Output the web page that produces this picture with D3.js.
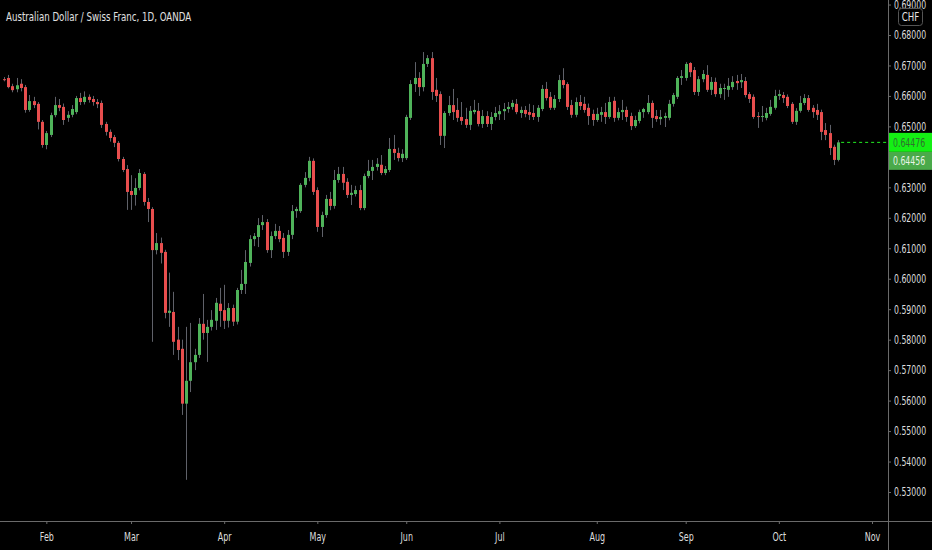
<!DOCTYPE html>
<html><head><meta charset="utf-8">
<script src="https://cdn.jsdelivr.net/npm/d3@7"></script>
<style>
html,body{margin:0;padding:0;background:#000;}
svg{display:block;}
text{font-family:"DejaVu Sans Condensed","DejaVu Sans","Liberation Sans",sans-serif;}
</style></head>
<body>
<svg id="chart" width="932" height="550"></svg>
<script>
const title = "Australian Dollar / Swiss Franc, 1D, OANDA";
const startDate = "2020-01-20";
const monthLabels = ["Feb","Mar","Apr","May","Jun","Jul","Aug","Sep","Oct","Nov"];
const monthIdx = [10,30,52,74,95,117,140,161,183,205];
const priceTicks = [0.53,0.54,0.55,0.56,0.57,0.58,0.59,0.60,0.61,0.62,0.63,0.65,0.66,0.67,0.68,0.69];
const lastPrice = 0.64476;
const prevPrice = 0.64456;
const currency = "CHF";

const open = [
.6655,.6659,.6632,.6622,.6640,.6629,.6554,.6583,.6574,.6515,
.6439,.6472,.6537,.6570,.6564,.6528,.6538,.6547,.6593,.6580,
.6597,.6590,.6580,.6577,.6508,.6482,.6465,.6446,.6393,.6360,
.6288,.6275,.6298,.6344,.6252,.6229,.6094,.6117,.6088,.5888,
.5891,.5800,.5770,.5590,.5665,.5726,.5750,.5852,.5822,.5842,
.5862,.5918,.5897,.5862,.5904,.5859,.5963,.5983,.6052,.6130,
.6137,.6176,.6186,.6094,.6140,.6157,.6134,.6088,.6144,.6222,
.6222,.6308,.6331,.6387,.6291,.6170,.6209,.6262,.6239,.6324,
.6344,.6318,.6275,.6278,.6291,.6232,.6337,.6354,.6367,.6374,
.6347,.6357,.6426,.6413,.6396,.6396,.6528,.6639,.6659,.6629,
.6705,.6724,.6620,.6606,.6469,.6544,.6570,.6554,.6531,.6524,
.6505,.6547,.6551,.6508,.6534,.6508,.6531,.6540,.6550,.6557,
.6564,.6574,.6544,.6554,.6547,.6544,.6531,.6557,.6623,.6597,
.6561,.6590,.6652,.6639,.6570,.6538,.6580,.6574,.6561,.6541,
.6521,.6538,.6547,.6531,.6584,.6528,.6547,.6554,.6534,.6501,
.6518,.6547,.6547,.6577,.6534,.6524,.6528,.6528,.6574,.6597,
.6659,.6659,.6708,.6685,.6613,.6655,.6669,.6620,.6646,.6606,
.6623,.6620,.6629,.6649,.6645,.6649,.6606,.6597,.6534,.6531,
.6528,.6541,.6561,.6600,.6603,.6597,.6574,.6515,.6551,.6577,
.6593,.6561,.6554,.6547,.6488,.6478,.6433,.6390];
const high = [
.6662,.6669,.6640,.6659,.6655,.6636,.6603,.6597,.6580,.6521,
.6485,.6545,.6597,.6590,.6575,.6550,.6570,.6600,.6610,.6615,
.6605,.6600,.6590,.6585,.6515,.6490,.6472,.6452,.6400,.6373,
.6340,.6330,.6360,.6350,.6265,.6235,.6150,.6135,.6095,.6020,
.5957,.5842,.5800,.5842,.5855,.5770,.5871,.5950,.5865,.5897,
.5937,.5970,.5980,.5920,.5915,.5970,.6029,.6094,.6143,.6150,
.6199,.6209,.6196,.6155,.6180,.6173,.6150,.6160,.6242,.6236,
.6314,.6350,.6400,.6395,.6300,.6220,.6275,.6285,.6357,.6367,
.6367,.6330,.6308,.6305,.6308,.6345,.6390,.6390,.6396,.6406,
.6370,.6462,.6472,.6430,.6425,.6538,.6652,.6711,.6678,.6744,
.6734,.6744,.6659,.6615,.6550,.6600,.6623,.6593,.6580,.6561,
.6567,.6587,.6577,.6554,.6550,.6547,.6564,.6570,.6577,.6580,
.6587,.6590,.6565,.6567,.6574,.6570,.6570,.6636,.6646,.6613,
.6603,.6669,.6691,.6645,.6587,.6595,.6603,.6597,.6575,.6555,
.6561,.6564,.6577,.6597,.6597,.6561,.6587,.6565,.6545,.6535,
.6555,.6561,.6603,.6585,.6554,.6554,.6545,.6587,.6610,.6665,
.6685,.6711,.6711,.6695,.6665,.6685,.6701,.6662,.6660,.6640,
.6640,.6659,.6665,.6669,.6672,.6662,.6613,.6605,.6547,.6567,
.6561,.6587,.6620,.6620,.6613,.6605,.6580,.6560,.6600,.6606,
.6603,.6570,.6574,.6555,.6511,.6505,.6440,.6455];
const low = [
.6648,.6625,.6612,.6612,.6615,.6545,.6548,.6560,.6490,.6430,
.6425,.6465,.6530,.6550,.6505,.6515,.6530,.6540,.6570,.6572,
.6578,.6568,.6560,.6495,.6470,.6450,.6432,.6385,.6350,.6226,
.6226,.6240,.6290,.6240,.6186,.5793,.6080,.6050,.5870,.5842,
.5750,.5733,.5553,.5340,.5628,.5700,.5740,.5800,.5727,.5830,
.5832,.5842,.5835,.5840,.5845,.5850,.5950,.5950,.6040,.6107,
.6104,.6160,.6085,.6068,.6130,.6120,.6068,.6075,.6130,.6200,
.6216,.6300,.6320,.6275,.6154,.6137,.6200,.6225,.6230,.6315,
.6291,.6265,.6242,.6270,.6225,.6225,.6330,.6324,.6355,.6340,
.6340,.6350,.6390,.6385,.6383,.6390,.6521,.6613,.6600,.6615,
.6695,.6587,.6580,.6439,.6429,.6535,.6521,.6515,.6505,.6495,
.6488,.6540,.6500,.6495,.6498,.6488,.6520,.6521,.6521,.6545,
.6555,.6540,.6528,.6530,.6521,.6521,.6515,.6550,.6585,.6554,
.6554,.6580,.6625,.6554,.6528,.6530,.6554,.6545,.6505,.6502,
.6515,.6515,.6508,.6525,.6515,.6520,.6521,.6515,.6488,.6495,
.6510,.6528,.6540,.6495,.6515,.6505,.6498,.6520,.6565,.6590,
.6636,.6650,.6662,.6603,.6600,.6645,.6613,.6603,.6597,.6593,
.6587,.6597,.6620,.6620,.6626,.6595,.6577,.6525,.6495,.6515,
.6520,.6535,.6555,.6587,.6577,.6560,.6508,.6505,.6545,.6570,
.6548,.6528,.6521,.6455,.6455,.6406,.6373,.6385];
const close = [
.6652,.6629,.6619,.6635,.6626,.6554,.6583,.6570,.6515,.6439,
.6478,.6537,.6570,.6561,.6521,.6538,.6557,.6593,.6580,.6597,
.6587,.6580,.6573,.6505,.6482,.6462,.6446,.6393,.6357,.6285,
.6275,.6298,.6347,.6252,.6229,.6094,.6117,.6085,.5888,.5895,
.5793,.5766,.5590,.5665,.5726,.5750,.5852,.5822,.5842,.5865,
.5921,.5894,.5862,.5904,.5859,.5963,.5983,.6055,.6130,.6140,
.6176,.6186,.6094,.6140,.6157,.6130,.6088,.6144,.6222,.6229,
.6308,.6331,.6387,.6285,.6170,.6209,.6262,.6239,.6324,.6344,
.6315,.6275,.6282,.6291,.6232,.6337,.6354,.6367,.6377,.6347,
.6360,.6426,.6413,.6396,.6410,.6531,.6639,.6659,.6629,.6705,
.6724,.6613,.6600,.6469,.6544,.6570,.6547,.6528,.6518,.6505,
.6551,.6554,.6508,.6534,.6508,.6531,.6544,.6550,.6557,.6564,
.6577,.6547,.6554,.6541,.6538,.6531,.6561,.6623,.6593,.6561,
.6590,.6652,.6636,.6564,.6538,.6580,.6567,.6554,.6534,.6521,
.6541,.6547,.6531,.6580,.6528,.6547,.6554,.6531,.6501,.6521,
.6547,.6557,.6577,.6528,.6524,.6531,.6534,.6574,.6603,.6659,
.6665,.6705,.6678,.6613,.6655,.6672,.6620,.6646,.6606,.6626,
.6626,.6633,.6646,.6642,.6652,.6603,.6590,.6531,.6531,.6534,
.6544,.6564,.6600,.6606,.6593,.6567,.6515,.6551,.6577,.6593,
.6554,.6547,.6538,.6482,.6472,.6429,.6390,.64476];

const W = 932, H = 550;
const axisX = 888, axisY = 521;
const upColor = "#4fb35a", downColor = "#e84e4e", wickColor = "#5f6169";
const textColor = "#dedede", lineColor = "#6a6a6a";

// horizontally condense text with a transform (keeps real text)
function squeeze(sel, sx){
  sel.each(function(){
    const t = d3.select(this);
    const x0 = +(t.attr("x") || 0);
    t.attr("x", x0/sx).attr("transform", `scale(${sx},1)`);
  });
}

const bars = open.map((o,i)=>({i, o, h:high[i], l:low[i], c:close[i]}));

const svg = d3.select("#chart");
svg.append("rect").attr("width",W).attr("height",H).attr("fill","#000");

const x = d3.scaleLinear().domain([0,205]).range([4,872]);
const y = d3.scaleLinear().domain([0.53,0.68]).range([492,35]);

const plot = svg.append("g");
plot.selectAll("line.wick").data(bars).join("line")
  .attr("class","wick")
  .attr("x1",d=>Math.round(x(d.i))+0.5).attr("x2",d=>Math.round(x(d.i))+0.5)
  .attr("y1",d=>y(d.h)).attr("y2",d=>y(d.l))
  .attr("stroke",wickColor).attr("stroke-width",1);
plot.selectAll("rect.body").data(bars).join("rect")
  .attr("class","body")
  .attr("x",d=>Math.round(x(d.i))-1)
  .attr("width",3)
  .attr("y",d=>y(Math.max(d.o,d.c)))
  .attr("height",d=>Math.max(1,Math.abs(y(d.o)-y(d.c))))
  .attr("fill",d=>d.c>=d.o?upColor:downColor);

const last = bars[bars.length-1];
svg.append("line")
  .attr("x1",x(last.i)+3).attr("x2",axisX)
  .attr("y1",y(lastPrice)).attr("y2",y(lastPrice))
  .attr("stroke","#22ee22").attr("stroke-width",1).attr("stroke-dasharray","3,3");

// bottom axis
const xAxis = d3.axisBottom(x).tickValues(monthIdx)
  .tickFormat((d,i)=>monthLabels[i]).tickSize(3).tickPadding(8);
const gx = svg.append("g").attr("transform",`translate(0,${axisY})`).call(xAxis);
gx.select(".domain").remove();
gx.selectAll(".tick line").attr("stroke",lineColor);
gx.selectAll(".tick text").attr("fill",textColor).attr("font-size",12).call(squeeze,0.74);
svg.append("line").attr("x1",0).attr("x2",W).attr("y1",axisY+0.5).attr("y2",axisY+0.5)
  .attr("stroke",lineColor).attr("stroke-width",1);

// right axis
const yAxis = d3.axisRight(y).tickValues(priceTicks).tickFormat(d3.format(".5f"))
  .tickSize(3).tickPadding(3);
const gy = svg.append("g").attr("transform",`translate(${axisX},0)`).call(yAxis);
gy.select(".domain").remove();
gy.selectAll(".tick line").attr("stroke",lineColor);
gy.selectAll(".tick text").attr("fill",textColor).attr("font-size",12).call(squeeze,0.72);
svg.append("line").attr("x1",axisX+0.5).attr("x2",axisX+0.5).attr("y1",0).attr("y2",H)
  .attr("stroke",lineColor).attr("stroke-width",1);

// price labels
const yl = y(lastPrice);
svg.append("rect").attr("x",axisX+1).attr("y",yl-9.5).attr("width",W-axisX-1).attr("height",19)
  .attr("fill","#14f014");
svg.append("text").attr("x",axisX+5).attr("y",yl+4.5).attr("font-size",12)
  .attr("fill","#2f6f2f").text(d3.format(".5f")(lastPrice)).call(squeeze,0.72);
svg.append("rect").attr("x",axisX+1).attr("y",yl+9.5).attr("width",W-axisX-1).attr("height",18)
  .attr("fill","#4aaa4a");
svg.append("text").attr("x",axisX+5).attr("y",yl+23).attr("font-size",12)
  .attr("fill","#e8f5e8").text(d3.format(".5f")(prevPrice)).call(squeeze,0.72);

// currency box
svg.append("rect").attr("x",898.5).attr("y",8.5).attr("width",24).attr("height",17).attr("rx",3)
  .attr("fill","#000").attr("stroke","#555");
svg.append("text").attr("x",910.5).attr("y",21.5).attr("text-anchor","middle").attr("font-size",12)
  .attr("fill","#e6e6e6").text(currency).call(squeeze,0.8);

// title
svg.append("text").attr("x",6).attr("y",21).attr("font-size",13)
  .attr("fill","#e0e0e0").text(title).call(squeeze,0.74);
</script>
</body></html>
